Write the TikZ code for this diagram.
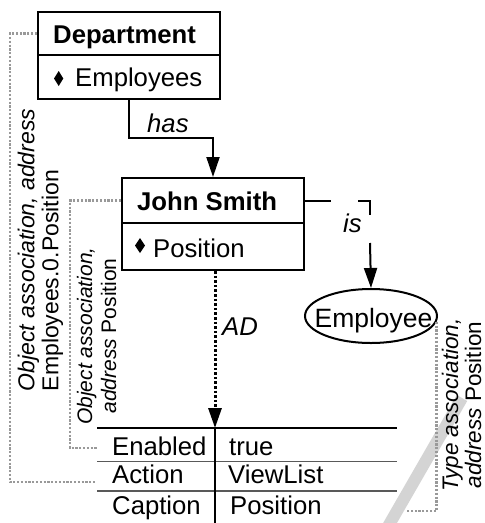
\documentclass[tikz,border=0pt]{standalone}
\usepackage{fontspec}
\setmainfont{Liberation Sans}
\usetikzlibrary{arrows.meta,shapes.geometric}
\begin{document}
\begin{tikzpicture}[x=1pt,y=-1pt,
  mainfont/.style={font=\fontsize{25.7}{30}\selectfont},
  boxrect/.style={draw,line width=2pt,minimum width=182pt,inner sep=0pt},
  txt/.style={anchor=base west,inner sep=0pt,mainfont},
  boldtxt/.style={anchor=base west,inner sep=0pt,font=\fontsize{25.7}{30}\selectfont\bfseries},
  lbl/.style={anchor=base west,inner sep=0pt,font=\fontsize{25.7}{30}\selectfont\itshape},
  rot/.style={rotate=90,inner sep=0pt,font=\fontsize{23}{24}\selectfont},
  link/.style={line width=2pt},
  tip/.style={-{Triangle[length=20pt,width=13pt]}},
  gdot/.style={draw=black!40,line width=2.5pt,dash pattern=on 2.2pt off 1.6pt},
  tline/.style={line width=1.3pt},
]
\useasboundingbox (0,0) rectangle (485,523);
\clip (0,0) rectangle (485,523);
% watermark stroke
\draw[line width=12pt,black!17] (386,530) -- (462,398);

% Department
\node[boxrect,minimum height=43pt] (depttop) at (129,33.5) {};
\node[boxrect,minimum height=44pt] (deptbot) at (129,77) {};
\node[boldtxt] (depttxt) at (53,43) {Department};
\node[txt] (emptxt) at (75,86) {Employees};
\fill (58.7,71) -- (63.3,78.5) -- (58.7,86) -- (54,78.5) -- cycle;

% John Smith
\node[boxrect,minimum height=45pt] (jstop) at (213,200.5) {};
\node[boxrect,minimum height=47pt] (jsbot) at (213,246.5) {};
\node[boldtxt] (jstxt) at (137,210) {John Smith};
\node[txt] (postxt) at (153,257) {Position};
\fill (140,238) -- (145,245.5) -- (140,253) -- (135,245.5) -- cycle;

% has
\coordinate (h2) at (213,138);
\draw[link,tip] (deptbot.south) |- (h2) -- (jstop.north);
\node[lbl] (haslbl) at (147,132) {has};

% Employee ellipse
\node[draw,ellipse,line width=2pt,minimum width=132pt,minimum height=54pt,inner sep=0pt] (emp) at (371,316) {};
\node[anchor=base,inner sep=0pt,font=\fontsize{26.5}{30}\selectfont] (emptext) at (373.5,327) {Employee};

% is
\coordinate (i1) at (331,200.5);
\coordinate (i2) at (358,200.5);
\coordinate (i3) at (370,200.5);
\coordinate (i4) at (370,215);
\coordinate (i5) at (370,243);
\draw[link] (jstop.east) -- (i1);
\draw[link] (i2) -- (i3) -- (i4);
\draw[link,tip] (i5) -- (emp.north);
\node[lbl] (islbl) at (343,232) {is};

% AD
\coordinate (tabtop) at (215,428);
\draw[line width=3pt,dash pattern=on 2.6pt off 2pt,tip] (jsbot.south -| tabtop) -- (tabtop);
\node[lbl] (adlbl) at (222,335) {AD};

% table
\coordinate (tl) at (97,428);
\coordinate (tr) at (397,428);
\coordinate (r1l) at (97,461.7);
\coordinate (r1r) at (397,461.7);
\coordinate (r2l) at (97,491);
\coordinate (r2r) at (397,491);
\coordinate (tbot) at (215,523);
\draw[tline] (tl) -- (tr);
\draw[tline,black!65] (r1l) -- (r1r);
\draw[tline,black!65] (r2l) -- (r2r);
\draw[tline] (tabtop) -- (tbot);
\node[txt] (c11) at (112,455) {Enabled};
\node[txt] (c21) at (112,483.5) {Action};
\node[txt] (c31) at (112,514) {Caption};
\node[txt] (c12) at (229,455) {true};
\node[txt] (c22) at (228,483.5) {ViewList};
\node[txt] (c32) at (230,514) {Position};

% gray dotted associations
\coordinate (g1) at (10,33.5);
\coordinate (g2) at (95,482);
\draw[gdot] (depttop.west) -- (g1) |- (g2);
\coordinate (g3) at (70,200.5);
\coordinate (g4) at (97,448);
\draw[gdot] (jstop.west) -- (g3) |- (g4);
\coordinate (g5) at (406,511);
\draw[gdot] (emp.-5) |- (g5);

% rotated labels
\node[rot,align=left] (lab1) at (40.5,250) {{\itshape Object association, address}\\Employees.0.Position};
\node[rot,align=center,font=\fontsize{21}{24}\selectfont] (lab2) at (96.5,336) {{\itshape Object association,}\\{\itshape address} Position};
\node[rot,align=center,font=\fontsize{22.5}{23}\selectfont] (lab3) at (461.5,405) {{\itshape Type association,}\\{\itshape address} Position};
\end{tikzpicture}
\end{document}
